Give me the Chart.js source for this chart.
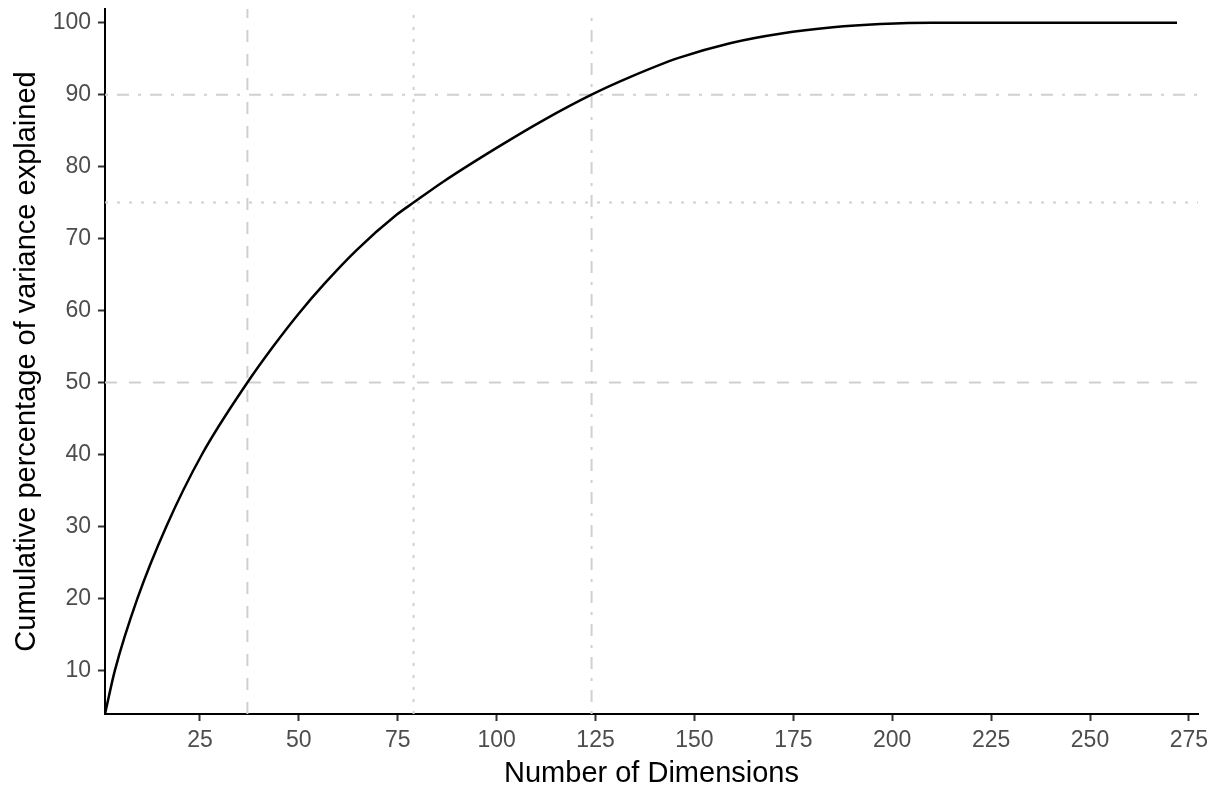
<!DOCTYPE html>
<html>
<head>
<meta charset="utf-8">
<script src="https://cdn.jsdelivr.net/npm/chart.js@4.4.1/dist/chart.umd.min.js"></script>
<style>
  html, body { margin: 0; padding: 0; background: #fff; }
  #wrap { width: 1222px; height: 788px; position: relative; }
</style>
</head>
<body>
<div id="wrap"><canvas id="chart"></canvas></div>
<script>
// values
const dims = [1, 3.5, 9.2, 16.5, 25.5, 37, 43.5, 50, 56.6, 64.6, 74.7, 79, 86.5, 100, 112, 124, 134, 146, 159, 172, 185, 197, 210, 272];
const cumVar = [3.94, 10, 20, 30, 40, 50, 55.0, 59.6, 63.8, 68.4, 73.3, 75, 77.9, 82.6, 86.5, 90, 92.5, 95.1, 97.15, 98.5, 99.35, 99.8, 100, 100];

const xTicks = [25, 50, 75, 100, 125, 150, 175, 200, 225, 250, 275];
const yTicks = [10, 20, 30, 40, 50, 60, 70, 80, 90, 100];

// reference lines: dimension needed for 50 / 75 / 90 percent
const refDims = [37, 79, 124];
const refPcts = [50, 75, 90];
const refDashes = [[12, 12], [3, 9], [3, 9, 12, 9]];

const xMin = 1, xMax = 277.3;
const yMin = 3.94, yMax = 101.9;

const refColor = '#d0d0d0';
const datasets = [];

refDims.forEach((d, i) => {
    datasets.push({
        data: [{ x: d, y: yMin }, { x: d, y: yMax }],
        borderColor: refColor, borderWidth: 2, borderDash: refDashes[i],
        pointRadius: 0, fill: false, order: 2
    });
});
refPcts.forEach((p, i) => {
    datasets.push({
        data: [{ x: xMin, y: p }, { x: xMax, y: p }],
        borderColor: refColor, borderWidth: 2, borderDash: refDashes[i],
        pointRadius: 0, fill: false, order: 2
    });
});

datasets.push({
    data: dims.map((d, i) => ({ x: d, y: cumVar[i] })),
    borderColor: '#000000',
    borderWidth: 2.5,
    pointRadius: 0,
    fill: false,
    cubicInterpolationMode: 'monotone',
    order: 1
});

const tickFont = { family: '"Liberation Sans", Arial, sans-serif', size: 23 };
const titleFont = { family: '"Liberation Sans", Arial, sans-serif', size: 29, lineHeight: 1 };

new Chart(document.getElementById('chart').getContext('2d'), {
    type: 'line',
    data: { datasets: datasets },
    options: {
        responsive: true,
        maintainAspectRatio: false,
        animation: false,
        devicePixelRatio: 1,
        layout: { padding: { top: 9, right: 24, left: 0, bottom: 0 } },
        plugins: {
            legend: { display: false },
            tooltip: { enabled: false }
        },
        scales: {
            x: {
                type: 'linear',
                min: xMin,
                max: xMax,
                afterBuildTicks: scale => { scale.ticks = xTicks.map(v => ({ value: v })); },
                afterFit: scale => { scale.height = 74; },
                ticks: { color: '#4d4d4d', font: tickFont, padding: 6, maxRotation: 0 },
                grid: { drawOnChartArea: false, drawTicks: true, tickLength: 7, tickWidth: 2, tickColor: '#333333' },
                border: { display: true, color: '#000000', width: 2 },
                title: { display: true, text: 'Number of Dimensions', color: '#000000', font: titleFont, padding: { top: 0, bottom: 0 } }
            },
            y: {
                type: 'linear',
                min: yMin,
                max: yMax,
                afterBuildTicks: scale => { scale.ticks = yTicks.map(v => ({ value: v })); },
                afterFit: scale => {
                    scale.width = 105;
                    scale.paddingTop = 0;
                    scale.paddingBottom = 0;
                },
                ticks: { color: '#4d4d4d', font: tickFont, padding: 7 },
                grid: { drawOnChartArea: false, drawTicks: true, tickLength: 7, tickWidth: 2, tickColor: '#333333' },
                border: { display: true, color: '#000000', width: 2 },
                title: { display: true, text: 'Cumulative percentage of variance explained', color: '#000000', font: titleFont, padding: { top: 12, bottom: 0 } }
            }
        }
    }
});
</script>
</body>
</html>
